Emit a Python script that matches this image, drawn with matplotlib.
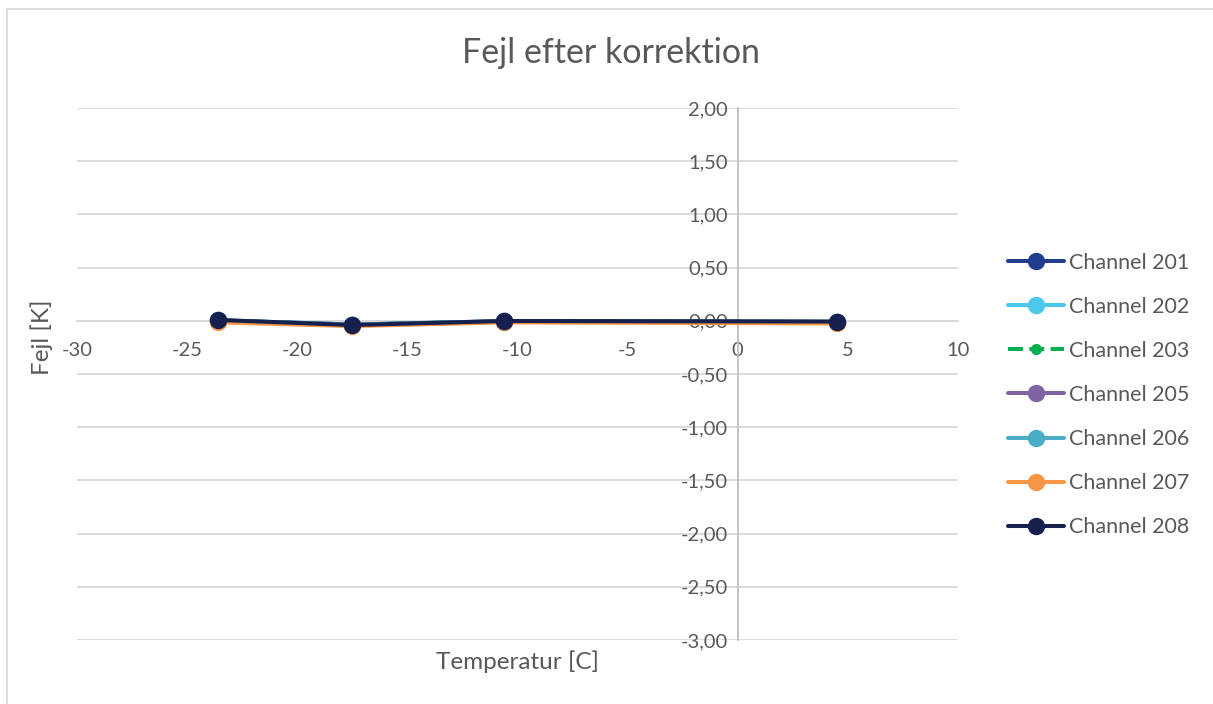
import numpy as np
import matplotlib.pyplot as plt
from matplotlib.lines import Line2D

plt.rcParams['font.family'] = ['Lato', 'DejaVu Sans']

# Målepunkter (temperatur i grader C)
temperatur = [-23.6, -17.5, -10.6, 4.5]

# Fejl efter korrektion [K] pr. kanal
ch201 = [0.005, -0.035, -0.003, -0.010]
ch202 = [0.004, -0.036, -0.004, -0.011]
ch203 = [0.003, -0.037, -0.005, -0.012]
ch205 = [0.002, -0.038, -0.006, -0.013]
ch206 = [0.001, -0.039, -0.007, -0.014]
ch207 = [-0.015, -0.050, -0.015, -0.025]
ch208 = [0.008, -0.040, -0.002, -0.007]

kanaler = ["Channel 201", "Channel 202", "Channel 203", "Channel 205",
           "Channel 206", "Channel 207", "Channel 208"]
serier = [ch201, ch202, ch203, ch205, ch206, ch207, ch208]
farver = ["#203D8E", "#4BC8EA", "#00B050", "#8064A2", "#4BACC6", "#F79646", "#15204F"]

yticks = np.arange(-3.0, 2.01, 0.5)
xticks = np.arange(-30, 11, 5)

tekst = "#595959"

fig = plt.figure(figsize=(12.13, 7.04), dpi=100)
ax = fig.add_axes([77/1213, 1-640/704, (958-77)/1213, (640-108)/704])

for navn, y, farve in zip(kanaler, serier, farver):
    if navn == "Channel 203":
        ax.plot(temperatur, y, '--', color=farve, lw=2.9, marker='o', ms=7,
                label=navn, zorder=3, solid_capstyle='round')
    else:
        ax.plot(temperatur, y, '-', color=farve, lw=2.9, marker='o', ms=11.5,
                label=navn, zorder=3, solid_capstyle='round')

ax.set_xlim(-30, 10)
ax.set_ylim(-3, 2)
ax.set_xticks(xticks)
ax.set_yticks(yticks)
ax.set_xticklabels([f"{v:d}" for v in xticks])
ax.set_yticklabels([f"{v:.2f}".replace(".", ",") for v in yticks])

ax.grid(axis='y', color="#D9D9D9", lw=1.3)
ax.set_axisbelow(True)
for side in ['top', 'right']:
    ax.spines[side].set_visible(False)
ax.spines['left'].set_position(('data', 0))
ax.spines['bottom'].set_position(('data', 0))
ax.spines['left'].set_color("#BFBFBF")
ax.spines['bottom'].set_color("#D9D9D9")
ax.spines['left'].set_linewidth(1.3)
ax.spines['bottom'].set_linewidth(1.3)
ax.tick_params(length=0, labelsize=14.5, labelcolor=tekst)
ax.tick_params(axis='x', pad=15)
ax.tick_params(axis='y', pad=7)

fig.text(611/1213, 1-53/704, "Fejl efter korrektion", ha='center', va='center',
         fontsize=24.5, color=tekst)
fig.text(517/1213, 1-662/704, "Temperatur [C]", ha='center', va='center',
         fontsize=17.5, color=tekst)
fig.text(42/1213, 1-337/704, "Fejl [K]", ha='center', va='center',
         rotation=90, fontsize=17.5, color=tekst)

leg = fig.legend(loc='center left', bbox_to_anchor=(1008/1213, 1-395/704),
                 frameon=False, fontsize=15.5, labelspacing=1.12, handlelength=2.6,
                 handletextpad=0.25, borderpad=0, borderaxespad=0, numpoints=1)
for t in leg.get_texts():
    t.set_color(tekst)

# ramme om diagrammet
fig.add_artist(Line2D([7/1213, 7/1213], [0, 1-9/704], color="#D9D9D9", lw=1.3))
fig.add_artist(Line2D([7/1213, 1], [1-9/704, 1-9/704], color="#D9D9D9", lw=1.3))

plt.savefig("out.png", dpi=100)
plt.close()
